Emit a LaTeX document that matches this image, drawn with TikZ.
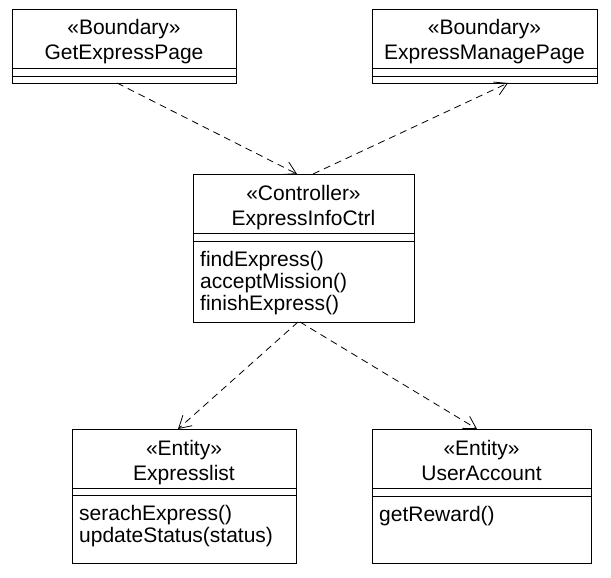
\documentclass[tikz,border=0pt]{standalone}
\usepackage{fontspec}
\setmainfont{Liberation Sans}
\usetikzlibrary{arrows.meta}
\begin{document}
\begin{tikzpicture}[x=1pt,y=-1pt,
  box/.style={draw,line width=0.8pt,anchor=north west,inner sep=0pt,outer sep=0pt},
  ttl/.style={anchor=base,inner sep=0pt,font=\fontsize{21}{24}\selectfont},
  mth/.style={anchor=base west,inner sep=0pt,font=\fontsize{21}{24}\selectfont},
  sep/.style={line width=0.8pt},
  dep/.style={draw,line width=0.8pt,dash pattern=on 7pt off 5pt,-{Straight Barb[length=12pt,width=14pt]}}]
\useasboundingbox (0,0) rectangle (611,578);
\fill[white] (0,0) rectangle (611,578);

% GetExpressPage
\node[box,minimum width=224pt,minimum height=74pt] (gep) at (12,9) {};
\draw[sep] (12,68) -- (236,68) (12,76) -- (236,76);
\node[ttl] (gep1) at (124,35) {«Boundary»};
\node[ttl] (gep2) at (124,60) {GetExpressPage};

% ExpressManagePage
\node[box,minimum width=225pt,minimum height=74pt] (emp) at (372,9) {};
\draw[sep] (372,68) -- (597,68) (372,76) -- (597,76);
\node[ttl] (emp1) at (484.5,35) {«Boundary»};
\node[ttl] (emp2) at (484.5,60) {ExpressManagePage};

% ExpressInfoCtrl
\node[box,minimum width=221pt,minimum height=148pt] (ctl) at (193,174) {};
\draw[sep] (193,233) -- (414,233) (193,241) -- (414,241);
\node[ttl] (ctl1) at (303.5,200) {«Controller»};
\node[ttl] (ctl2) at (303.5,225) {ExpressInfoCtrl};
\node[mth] (ctlm1) at (200,266) {findExpress()};
\node[mth] (ctlm2) at (200,288) {acceptMission()};
\node[mth] (ctlm3) at (200,310) {finishExpress()};

% Expresslist
\node[box,minimum width=224pt,minimum height=134pt] (exl) at (72,429) {};
\draw[sep] (72,488) -- (296,488) (72,495) -- (296,495);
\node[ttl] (exl1) at (184,455) {«Entity»};
\node[ttl] (exl2) at (184,480) {Expresslist};
\node[mth] (exlm1) at (79,520) {serachExpress()};
\node[mth] (exlm2) at (79,542) {updateStatus(status)};

% UserAccount
\node[box,minimum width=219pt,minimum height=134pt] (ua) at (372,429) {};
\draw[sep] (372,488) -- (591,488) (372,496) -- (591,496);
\node[ttl] (ua1) at (481.5,455) {«Entity»};
\node[ttl] (ua2) at (481.5,480) {UserAccount};
\node[mth] (uam1) at (379,521) {getReward()};

% dependencies
\draw[dep] ([xshift=-7pt]gep.south) -- ([xshift=-6.5pt]ctl.north);
\draw[dep] ([xshift=9.5pt]ctl.north) -- ([xshift=23.5pt]emp.south);
\draw[dep] ([xshift=-5.5pt]ctl.south) -- ([xshift=-6pt]exl.north);
\draw[dep] ([xshift=-3.5pt]ctl.south) -- ([xshift=-4.5pt]ua.north);
\end{tikzpicture}
\end{document}
